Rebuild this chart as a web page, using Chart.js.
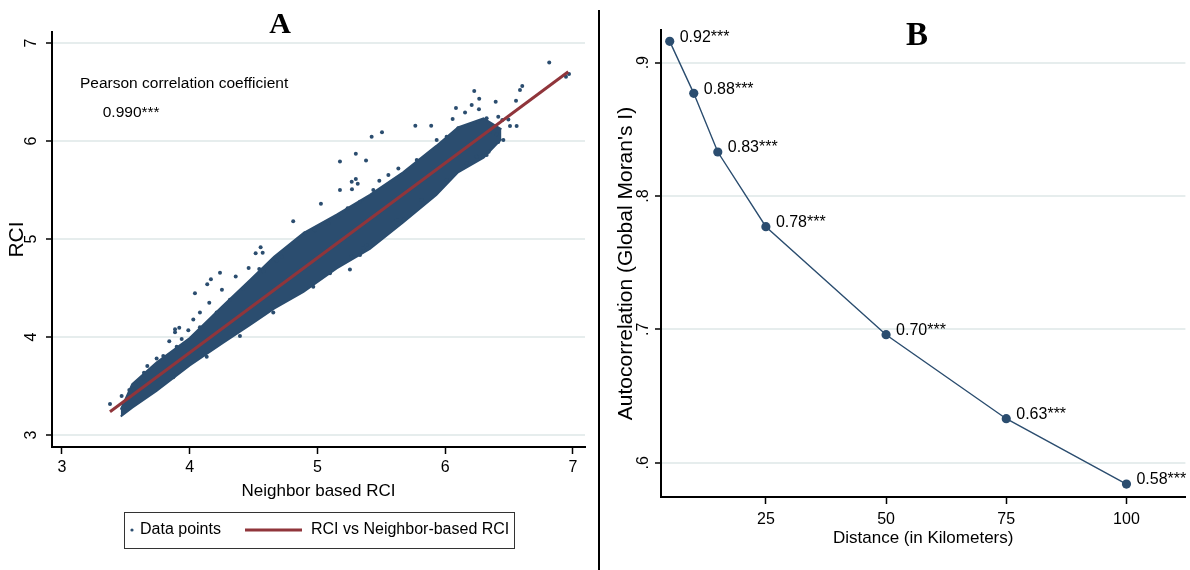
<!DOCTYPE html>
<html>
<head>
<meta charset="utf-8">
<script src="https://cdn.jsdelivr.net/npm/chart.js@4.4.1/dist/chart.umd.min.js"></script>
<style>
  html, body { margin: 0; padding: 0; background: #fff; }
  #wrap { position: relative; width: 1190px; height: 570px; }
  .panel { position: absolute; top: 0; height: 570px; }
  #panelA { left: 0; width: 600px; }
  #panelB { left: 600px; width: 590px; }
  #divider { position: absolute; left: 598px; top: 10px; width: 2px; height: 560px; background: #000; }
</style>
</head>
<body>
<div id="wrap">
  <div class="panel" id="panelA"><canvas id="chartA"></canvas></div>
  <div id="divider"></div>
  <div class="panel" id="panelB"><canvas id="chartB"></canvas></div>
</div>
<script>
// Panel A: RCI against neighbour-based RCI
// dense core of the cloud, as lower/upper envelope on a shared x grid
const bandX     = [3.46, 3.55, 3.74, 4.00, 4.26, 4.47, 4.66, 4.89, 5.15, 5.41, 5.67, 5.93, 6.10, 6.30, 6.44];
const bandUpper = [3.26, 3.52, 3.74, 3.99, 4.32, 4.58, 4.82, 5.06, 5.25, 5.45, 5.68, 5.95, 6.14, 6.23, 6.12];
const bandLower = [3.19, 3.28, 3.45, 3.71, 3.94, 4.12, 4.29, 4.46, 4.70, 4.90, 5.17, 5.45, 5.68, 5.83, 6.02];

// individual observations outside / along the edge of the core
const scatterX = [
  3.376, 3.467, 3.480, 3.527, 3.558, 3.597, 3.636, 3.642, 3.668, 3.793, 3.840, 3.885, 3.918, 3.885,
  3.937, 3.989, 4.028, 4.080, 4.041, 4.137, 4.153, 4.166, 4.237, 4.252, 4.360, 4.461, 4.516, 4.555,
  4.571, 4.544, 4.393, 4.720, 4.810, 5.027, 5.176, 5.300, 5.380, 5.424, 5.505, 5.268, 5.300, 5.315,
  5.270, 5.176, 5.236, 5.484, 5.766, 5.890, 5.674, 6.058, 6.084, 6.155, 6.207, 6.227, 6.266, 6.264,
  6.395, 6.415, 6.447, 6.494, 6.507, 6.559, 6.554, 6.585, 6.603, 6.814, 6.945, 6.969, 6.403, 6.415,
  6.340, 6.298, 5.254, 5.333, 5.358, 5.815, 6.350, 6.455, 5.268,
  4.902, 4.980, 5.085, 5.163, 5.333, 5.437, 5.555, 5.633, 5.777, 5.933, 6.011, 6.102, 6.194, 6.259, 6.324,
  4.967, 5.098, 5.385, 5.620, 6.011, 6.168, 6.246, 6.324,
  3.741, 3.898, 4.080, 4.211, 4.315, 4.419, 4.576, 4.680,
  3.871, 4.133, 4.654
];
const scatterY = [
  3.316, 3.398, 3.320, 3.459, 3.466, 3.520, 3.580, 3.636, 3.704, 3.806, 3.956, 4.080, 4.095, 4.050,
  3.980, 4.070, 4.180, 4.250, 4.446, 4.538, 4.350, 4.590, 4.656, 4.483, 4.617, 4.704, 4.854, 4.915,
  4.860, 4.694, 4.010, 4.820, 5.180, 5.360, 5.790, 5.870, 5.800, 6.044, 6.090, 5.585, 5.612, 5.564,
  5.507, 5.500, 5.313, 5.595, 6.156, 6.156, 5.200, 6.224, 6.337, 6.290, 6.367, 6.510, 6.432, 6.323,
  6.400, 6.248, 6.214, 6.220, 6.153, 6.153, 6.410, 6.520, 6.560, 6.800, 6.656, 6.684, 6.070, 5.990,
  5.890, 5.850, 4.690, 4.837, 4.905, 5.398, 6.095, 6.010, 4.820,
  5.058, 5.090, 5.160, 5.230, 5.380, 5.500, 5.653, 5.720, 5.806, 6.010, 6.044, 6.130, 6.163, 6.197, 6.232,
  4.513, 4.650, 4.940, 5.194, 5.602, 5.772, 5.840, 5.857,
  3.780, 3.900, 4.100, 4.250, 4.380, 4.490, 4.670, 4.780,
  3.590, 3.800, 4.250
];

// fitted line end points
const fitX = [3.376, 6.963];
const fitY = [3.238, 6.707];
const pearsonR = 0.990;
const xTicksA = [3, 4, 5, 6, 7];
const yTicksA = [3, 4, 5, 6, 7];

// Panel B: Moran's I by distance band
const distKm = [5, 10, 15, 25, 50, 75, 100];
const moranI = [0.916, 0.877, 0.833, 0.777, 0.696, 0.633, 0.584];
const xTicksB = [25, 50, 75, 100];
const yTicksB = [0.6, 0.7, 0.8, 0.9];

const FONT = '"Liberation Sans", Arial, sans-serif';
const SERIF = '"Liberation Serif", "Times New Roman", serif';
const BLUE = '#2b4d6f';
const MAROON = '#90353b';
const GRID = '#e6eded';
const FS = 16;      // ticks, notes, legend
const FT = 17;      // x axis titles
const FY = 21;      // rotated y axis titles

Chart.defaults.font.family = FONT;
Chart.defaults.font.size = FS;
Chart.defaults.color = '#000';

const pairs = (xs, ys) => xs.map((x, i) => ({ x: x, y: ys[i] }));
const fixTicks = list => scale => { scale.ticks = list.map(v => ({ value: v })); };

// --- panel A extras: letter, correlation note, boxed legend ---
const panelAExtras = {
    id: 'panelAExtras',
    afterDraw(chart) {
        const { ctx, chartArea, scales } = chart;
        ctx.save();
        ctx.fillStyle = '#000';
        ctx.font = `bold 30px ${SERIF}`;
        ctx.textAlign = 'center';
        ctx.textBaseline = 'alphabetic';
        ctx.fillText('A', 280, 33);

        ctx.font = `15.5px ${FONT}`;
        ctx.textAlign = 'left';
        ctx.textBaseline = 'middle';
        ctx.fillText('Pearson correlation coefficient', scales.x.getPixelForValue(3.141), scales.y.getPixelForValue(6.582));
        ctx.fillText(pearsonR.toFixed(3) + '***', scales.x.getPixelForValue(3.319), scales.y.getPixelForValue(6.286));

        // legend
        ctx.font = `${FS}px ${FONT}`;
        const w = 390, h = 36;
        const left = Math.round((chartArea.left + chartArea.right) / 2 - w / 2);
        const top = Math.round(chartArea.bottom + 65);
        const my = top + h / 2;
        ctx.strokeStyle = '#333';
        ctx.lineWidth = 1;
        ctx.strokeRect(left + 0.5, top + 0.5, w, h);

        const dsPoints = chart.data.datasets[2];
        const dsFit = chart.data.datasets[3];
        ctx.fillStyle = BLUE;
        ctx.beginPath();
        ctx.arc(left + 8, my, 1.6, 0, Math.PI * 2);
        ctx.fill();
        ctx.fillStyle = '#000';
        ctx.fillText(dsPoints.label, left + 16, my);
        ctx.strokeStyle = MAROON;
        ctx.lineWidth = 3;
        ctx.beginPath();
        ctx.moveTo(left + 121, my);
        ctx.lineTo(left + 178, my);
        ctx.stroke();
        ctx.fillText(dsFit.label, left + 187, my);
        ctx.restore();
    }
};

new Chart(document.getElementById('chartA'), {
    type: 'line',
    data: {
        datasets: [
            { label: 'band low', data: pairs(bandX, bandLower), borderColor: BLUE, borderWidth: 2, pointRadius: 0, fill: false, order: 3 },
            { label: 'band high', data: pairs(bandX, bandUpper), borderColor: BLUE, borderWidth: 2, pointRadius: 0,
              backgroundColor: BLUE, fill: '-1', order: 2 },
            { label: 'Data points', data: pairs(scatterX, scatterY), showLine: false, pointRadius: 2,
              pointBorderWidth: 0, pointBackgroundColor: BLUE, order: 1 },
            { label: 'RCI vs Neighbor-based RCI', data: pairs(fitX, fitY), borderColor: MAROON, borderWidth: 3,
              pointRadius: 0, fill: false, order: 0 }
        ]
    },
    options: {
        responsive: true,
        maintainAspectRatio: false,
        animation: false,
        layout: { padding: { top: 32, right: 15, left: 0, bottom: 0 } },
        plugins: { legend: { display: false }, tooltip: { enabled: false } },
        scales: {
            x: {
                type: 'linear', min: 2.922, max: 7.094,
                afterBuildTicks: fixTicks(xTicksA),
                afterFit: scale => { scale.height = 123; },
                grid: { drawOnChartArea: false, tickColor: '#000', tickLength: 7, tickWidth: 1.5 },
                border: { color: '#000', width: 2 },
                ticks: { padding: 4, maxRotation: 0 },
                title: { display: true, text: 'Neighbor based RCI', font: { size: FT }, padding: { top: 0, bottom: 68 } }
            },
            y: {
                type: 'linear', min: 2.878, max: 7.112,
                afterBuildTicks: fixTicks(yTicksA),
                afterFit: scale => { scale.width = 52; },
                grid: { color: GRID, lineWidth: 2, tickColor: '#000', tickLength: 6, tickWidth: 1.5 },
                border: { color: '#000', width: 2 },
                ticks: { minRotation: 90, maxRotation: 90, crossAlign: 'center', padding: 10 },
                title: { display: true, text: 'RCI', font: { size: FY }, padding: { top: 5, bottom: 0 } }
            }
        }
    },
    plugins: [panelAExtras]
});

// --- panel B extras: letter and value labels ---
const panelBExtras = {
    id: 'panelBExtras',
    afterDatasetsDraw(chart) {
        const { ctx } = chart;
        const meta = chart.getDatasetMeta(0);
        ctx.save();
        ctx.fillStyle = '#000';
        ctx.font = `bold 33px ${SERIF}`;
        ctx.textAlign = 'center';
        ctx.textBaseline = 'alphabetic';
        ctx.fillText('B', 317, 45);

        ctx.font = `${FS}px ${FONT}`;
        ctx.textAlign = 'left';
        ctx.textBaseline = 'middle';
        meta.data.forEach((pt, i) => {
            ctx.fillText(moranI[i].toFixed(2) + '***', pt.x + 10, pt.y - 4);
        });
        ctx.restore();
    }
};

new Chart(document.getElementById('chartB'), {
    type: 'line',
    data: {
        datasets: [{
            label: "Moran's I",
            data: pairs(distKm, moranI),
            borderColor: BLUE,
            borderWidth: 1.4,
            pointRadius: 4.6,
            pointBorderWidth: 0,
            pointBackgroundColor: BLUE,
            tension: 0,
            fill: false
        }]
    },
    options: {
        responsive: true,
        maintainAspectRatio: false,
        animation: false,
        layout: { padding: { top: 30, right: 4, left: 0, bottom: 0 } },
        plugins: { legend: { display: false }, tooltip: { enabled: false } },
        scales: {
            x: {
                type: 'linear', min: 3.185, max: 112.26,
                afterBuildTicks: fixTicks(xTicksB),
                afterFit: scale => { scale.height = 73; },
                grid: { drawOnChartArea: false, tickColor: '#000', tickLength: 7, tickWidth: 1.5 },
                border: { color: '#000', width: 2 },
                ticks: { padding: 6, maxRotation: 0 },
                title: { display: true, text: 'Distance (in Kilometers)', font: { size: FT }, padding: { top: 0, bottom: 21 } }
            },
            y: {
                type: 'linear', min: 0.5743, max: 0.9245,
                afterBuildTicks: fixTicks(yTicksB),
                afterFit: scale => { scale.width = 61; },
                grid: { color: GRID, lineWidth: 2, tickColor: '#000', tickLength: 6, tickWidth: 1.5 },
                border: { color: '#000', width: 2 },
                ticks: {
                    minRotation: 90, maxRotation: 90, crossAlign: 'center', padding: 5,
                    callback: v => v.toFixed(1).replace(/^0/, '')
                },
                title: { display: true, text: "Autocorrelation (Global Moran's I)", font: { size: FY }, padding: { top: 14, bottom: 0 } }
            }
        }
    },
    plugins: [panelBExtras]
});
</script>
</body>
</html>
